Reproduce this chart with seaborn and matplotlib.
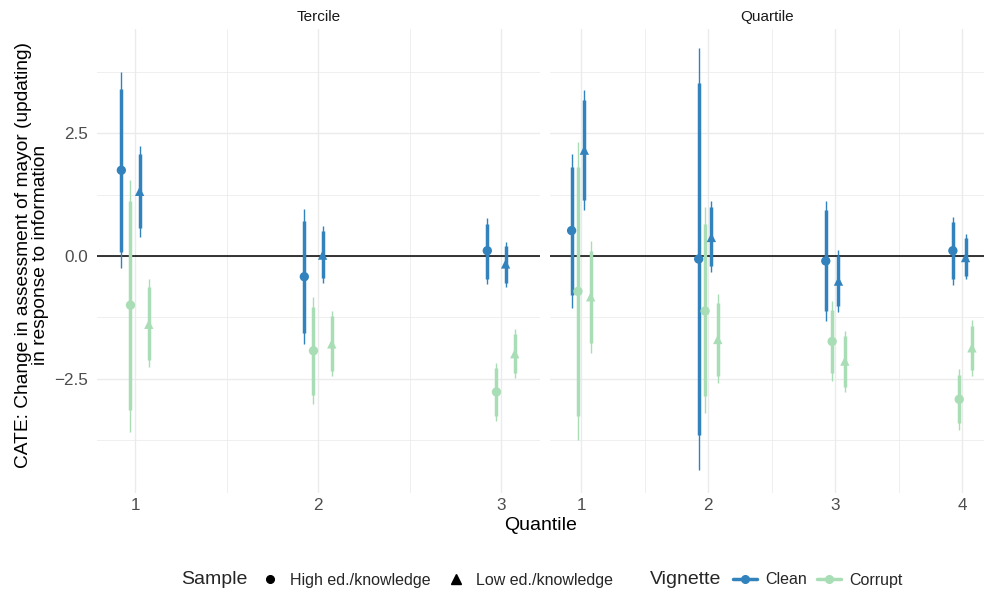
import numpy as np
import pandas as pd
import matplotlib
matplotlib.use("Agg")
import matplotlib.pyplot as plt
from matplotlib.lines import Line2D
import seaborn as sns

# ---------------- data ----------------
panels = ["Tercile"] * 12 + ["Quartile"] * 16
quantile = [1]*4 + [2]*4 + [3]*4 + [1]*4 + [2]*4 + [3]*4 + [4]*4
vignette = ["Clean", "Clean", "Corrupt", "Corrupt"] * 7
sample = ["High ed./knowledge", "Low ed./knowledge"] * 14

estimate = [1.75, 1.32, -1.00, -1.39,
            -0.42, 0.02, -1.93, -1.79,
            0.11, -0.16, -2.77, -1.99,
            0.52, 2.16, -0.72, -0.83,
            -0.06, 0.38, -1.12, -1.70,
            -0.10, -0.51, -1.74, -2.14,
            0.11, -0.03, -2.92, -1.87]
lo90 = [0.09, 0.57, -3.14, -2.11,
        -1.56, -0.44, -2.83, -2.35,
        -0.46, -0.54, -3.27, -2.38,
        -0.80, 1.15, -3.27, -1.78,
        -3.65, -0.20, -2.86, -2.45,
        -1.12, -1.02, -2.38, -2.66,
        -0.47, -0.40, -3.41, -2.32]
hi90 = [3.41, 2.09, 1.13, -0.64,
        0.72, 0.52, -1.04, -1.22,
        0.66, 0.21, -2.28, -1.58,
        1.82, 3.18, 1.82, 0.11,
        3.52, 1.00, 0.66, -0.95,
        0.93, 0.01, -1.09, -1.63,
        0.69, 0.36, -2.42, -1.43]
lo95 = [-0.25, 0.39, -3.58, -2.27,
        -1.80, -0.55, -3.02, -2.45,
        -0.57, -0.64, -3.37, -2.49,
        -1.05, 0.94, -3.75, -1.97,
        -4.36, -0.33, -3.20, -2.59,
        -1.33, -1.14, -2.54, -2.78,
        -0.59, -0.47, -3.55, -2.44]
hi95 = [3.75, 2.25, 1.56, -0.47,
        0.96, 0.61, -0.83, -1.12,
        0.77, 0.29, -2.18, -1.48,
        2.09, 3.39, 2.32, 0.31,
        4.24, 1.13, 1.00, -0.78,
        1.13, 0.12, -0.92, -1.53,
        0.79, 0.45, -2.30, -1.31]

df = pd.DataFrame(dict(panel=panels, quantile=quantile, Vignette=vignette,
                       Sample=sample, est=estimate, lo90=lo90, hi90=hi90,
                       lo95=lo95, hi95=hi95))

# ---------------- style ----------------
sns.set_style("white")
plt.rcParams["font.family"] = ["Liberation Sans", "DejaVu Sans"]

colors = {"Clean": "#3182bd", "Corrupt": "#a8ddb5"}
markers = {"High ed./knowledge": "o", "Low ed./knowledge": "^"}
dodge = {("High ed./knowledge", "Clean"): -0.075,
         ("High ed./knowledge", "Corrupt"): -0.025,
         ("Low ed./knowledge", "Clean"): 0.025,
         ("Low ed./knowledge", "Corrupt"): 0.075}
df["xpos"] = df["quantile"] + [dodge[(s, v)] for s, v in zip(df.Sample, df.Vignette)]

fig = plt.figure(figsize=(9.84, 5.92), dpi=100)
H = 592.0
W = 984.0
ax1 = fig.add_axes([97 / W, 1 - 493 / H, (540 - 97) / W, (493 - 29) / H])
ax2 = fig.add_axes([550 / W, 1 - 493 / H, (984 - 550) / W, (493 - 29) / H])

grid_major = "#ebebeb"
for ax, pname, xlim, nq in [(ax1, "Tercile", (0.792, 3.213), 3),
                            (ax2, "Quartile", (0.755, 4.17), 4)]:
    d = df[df.panel == pname]
    ax.set_xlim(*xlim)
    ax.set_ylim(-4.83, 4.63)
    # grid
    for y in [-2.5, 0, 2.5]:
        ax.axhline(y, color=grid_major, lw=1.0, zorder=0)
    for y in [-3.75, -1.25, 1.25, 3.75]:
        ax.axhline(y, color=grid_major, lw=0.55, zorder=0)
    for x in range(1, nq + 1):
        ax.axvline(x, color=grid_major, lw=1.0, zorder=0)
    for x in np.arange(1.5, nq, 1.0):
        ax.axvline(x, color=grid_major, lw=0.55, zorder=0)
    ax.axhline(0, color="black", lw=1.1, zorder=1)

    for vig in ["Clean", "Corrupt"]:
        dv = d[d.Vignette == vig]
        ax.vlines(dv.xpos, dv.lo95, dv.hi95, color=colors[vig], lw=1.0, zorder=2)
        ax.vlines(dv.xpos, dv.lo90, dv.hi90, color=colors[vig], lw=2.5, zorder=3)
    sns.scatterplot(data=d, x="xpos", y="est", hue="Vignette", style="Sample",
                    palette=colors, markers=markers, s=45, edgecolor="none",
                    linewidth=0, legend=False, ax=ax, zorder=4)

    ax.set_xticks(range(1, nq + 1))
    ax.set_xticklabels([str(i) for i in range(1, nq + 1)])
    ax.set_yticks([-2.5, 0, 2.5])
    ax.set_yticklabels(["\u22122.5", "0.0", "2.5"])
    ax.tick_params(axis="x", length=0, labelsize=12.3, colors="#4d4d4d", pad=3.5)
    ax.tick_params(axis="y", length=0, labelsize=12.3, colors="#4d4d4d", pad=6.5)
    ax.set_xlabel("")
    ax.set_ylabel("")
    for s in ax.spines.values():
        s.set_visible(False)
    ax.set_title(pname, fontsize=11, color="#1a1a1a", pad=6)

ax2.tick_params(axis="y", labelleft=False)

fig.text(32 / W, 1 - 255 / H,
         "CATE: Change in assessment of mayor (updating)\nin response to information",
         rotation=90, ha="center", va="center", fontsize=13.8, color="black",
         linespacing=0.95, multialignment="center")
fig.text(541 / W, 1 - 525 / H, "Quantile", ha="center", va="center",
         fontsize=14, color="black")

# legends
ly = 1 - 580 / H
fig.text(181 / W, ly, "Sample", ha="left", va="center", fontsize=14)
h1 = [Line2D([], [], marker="o", color="black", linestyle="none", markersize=5.5),
      Line2D([], [], marker="^", color="black", linestyle="none", markersize=6.5)]
leg1 = fig.legend(h1, ["High ed./knowledge", "Low ed./knowledge"], ncol=2,
                  loc="center left", bbox_to_anchor=(260 / W, ly), frameon=False,
                  fontsize=11.5, handlelength=1.25, handletextpad=0.6,
                  columnspacing=1.0, borderaxespad=0, borderpad=0)
fig.text(650 / W, ly, "Vignette", ha="left", va="center", fontsize=14)
h2 = [Line2D([], [], marker="o", color=colors["Clean"], lw=2.5, markersize=5.5),
      Line2D([], [], marker="o", color=colors["Corrupt"], lw=2.5, markersize=5.5)]
leg2 = fig.legend(h2, ["Clean", "Corrupt"], ncol=2, loc="center left",
                  bbox_to_anchor=(733 / W, ly), frameon=False, fontsize=11.5,
                  handlelength=1.5, handletextpad=0.5, columnspacing=0.65,
                  borderaxespad=0, borderpad=0)

fig.savefig("out.png", dpi=100)
